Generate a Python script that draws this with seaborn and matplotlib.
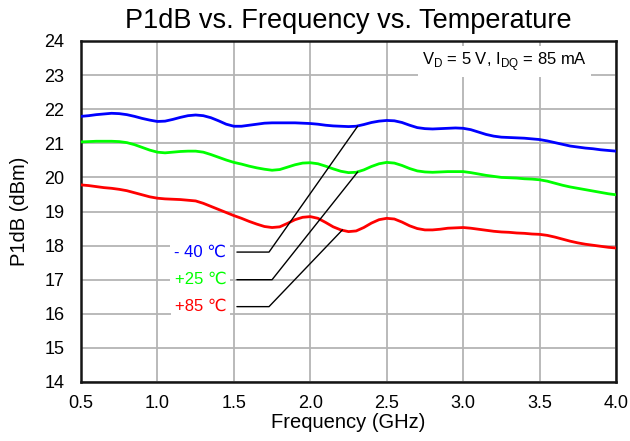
import matplotlib
matplotlib.use("Agg")
import matplotlib.pyplot as plt
import seaborn as sns
import pandas as pd

freq = [round(0.5 + 0.05 * i, 2) for i in range(71)]
p1db_m40 = [21.79, 21.81, 21.84, 21.86, 21.88, 21.87, 21.84, 21.79, 21.73, 21.68,
            21.64, 21.65, 21.70, 21.76, 21.81, 21.83, 21.81, 21.75, 21.66, 21.56,
            21.50, 21.50, 21.53, 21.56, 21.59, 21.60, 21.60, 21.60, 21.60, 21.59,
            21.58, 21.56, 21.53, 21.51, 21.50, 21.49, 21.50, 21.55, 21.61, 21.65,
            21.67, 21.66, 21.61, 21.53, 21.46, 21.43, 21.42, 21.43, 21.44, 21.45,
            21.44, 21.40, 21.33, 21.26, 21.21, 21.18, 21.17, 21.16, 21.15, 21.13,
            21.11, 21.07, 21.02, 20.97, 20.92, 20.89, 20.86, 20.84, 20.81, 20.79,
            20.77]
p1db_p25 = [21.04, 21.05, 21.06, 21.06, 21.06, 21.05, 21.02, 20.96, 20.88, 20.80,
            20.74, 20.72, 20.74, 20.76, 20.77, 20.77, 20.74, 20.67, 20.59, 20.51,
            20.44, 20.39, 20.33, 20.28, 20.24, 20.21, 20.23, 20.30, 20.37, 20.42,
            20.43, 20.40, 20.33, 20.25, 20.18, 20.14, 20.15, 20.22, 20.32, 20.40,
            20.44, 20.42, 20.35, 20.26, 20.19, 20.16, 20.15, 20.16, 20.17, 20.17,
            20.17, 20.14, 20.10, 20.06, 20.03, 20.00, 19.99, 19.98, 19.96, 19.95,
            19.93, 19.89, 19.83, 19.77, 19.72, 19.68, 19.64, 19.60, 19.56, 19.52,
            19.49]
p1db_p85 = [19.78, 19.76, 19.73, 19.70, 19.68, 19.65, 19.61, 19.55, 19.49, 19.43,
            19.39, 19.37, 19.36, 19.35, 19.33, 19.31, 19.24, 19.15, 19.06, 18.97,
            18.88, 18.80, 18.71, 18.63, 18.56, 18.53, 18.55, 18.65, 18.76, 18.83,
            18.85, 18.80, 18.68, 18.55, 18.46, 18.41, 18.43, 18.53, 18.66, 18.76,
            18.80, 18.78, 18.69, 18.58, 18.50, 18.46, 18.46, 18.48, 18.51, 18.52,
            18.53, 18.51, 18.48, 18.45, 18.42, 18.40, 18.39, 18.37, 18.36, 18.34,
            18.33, 18.30, 18.25, 18.19, 18.13, 18.08, 18.04, 18.01, 17.98, 17.95,
            17.93]

series_labels = ["- 40 \u2103", "+25 \u2103", "+85 \u2103"]
series_colors = ["#0000ff", "#00ff00", "#ff0000"]
x_ticks = [0.5, 1.0, 1.5, 2.0, 2.5, 3.0, 3.5, 4.0]
y_ticks = list(range(14, 25))

# label positions (text anchor y, elbow, target on curve)
label_y = [17.81, 17.0, 16.21]
elbow_x = [1.73, 1.75, 1.73]
target = [(2.31, 21.5), (2.31, 20.16), (2.21, 18.46)]

df = pd.DataFrame({
    "freq": freq * 3,
    "p1db": p1db_m40 + p1db_p25 + p1db_p85,
    "temp": [series_labels[0]] * len(freq) + [series_labels[1]] * len(freq) + [series_labels[2]] * len(freq),
})

sns.set_style("white")
plt.rcParams["font.family"] = ["Liberation Sans", "DejaVu Sans"]
plt.rcParams["text.color"] = "black"
plt.rcParams["axes.labelcolor"] = "black"

fig = plt.figure(figsize=(6.3, 4.41), dpi=100)
ax = fig.add_axes([81 / 630, 1 - 382 / 441, (616 - 81) / 630, (382 - 41) / 441])

sns.lineplot(data=df, x="freq", y="p1db", hue="temp", palette=series_colors,
             linewidth=2, ax=ax, legend=False, zorder=3)

ax.set_xlim(0.5, 4.0)
ax.set_ylim(14, 24)
ax.set_xticks(x_ticks)
ax.set_xticklabels([f"{v:.1f}" for v in x_ticks])
ax.set_yticks(y_ticks)
ax.tick_params(axis="both", length=0, labelsize=13, colors="black")
ax.tick_params(axis="y", pad=12)
ax.tick_params(axis="x", pad=9)
ax.grid(True, color="#b4b4b4", linewidth=1.3)
ax.set_axisbelow(True)
for s in ax.spines.values():
    s.set_color("#151515")
    s.set_linewidth(1.8)

ax.set_xlabel("Frequency (GHz)", fontsize=14.5, labelpad=1, color="black")
ax.set_ylabel("P1dB (dBm)", fontsize=14.5, labelpad=11, color="black")
ax.set_title("P1dB vs. Frequency vs. Temperature", fontsize=19.5, pad=9, color="black")

for lab, col, ly, ex, (tx, ty) in zip(series_labels, series_colors, label_y, elbow_x, target):
    ax.text(1.45, ly, lab, color=col, fontsize=12, ha="right", va="center", zorder=4,
            bbox=dict(facecolor="white", edgecolor="none", pad=3))
    ax.plot([1.52, ex, tx], [ly, ly, ty], color="black", linewidth=1, zorder=5)

ax.text(3.27, 23.40, r"V$_\mathregular{D}$ = 5 V, I$_\mathregular{DQ}$ = 85 mA",
        fontsize=12, ha="center", va="center", zorder=4, color="black",
        bbox=dict(facecolor="white", edgecolor="none", pad=3))

fig.savefig("out.png", dpi=100)
